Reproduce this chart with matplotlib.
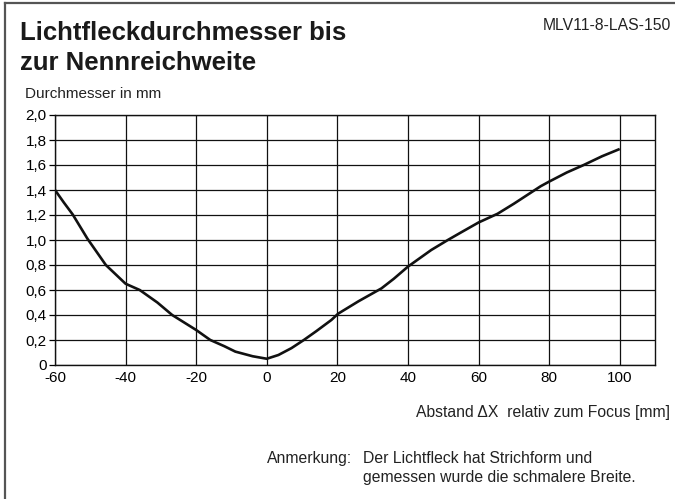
import matplotlib
matplotlib.use("Agg")
import matplotlib.pyplot as plt
from matplotlib.lines import Line2D

plt.rcParams['font.family'] = ['Liberation Sans', 'DejaVu Sans']
plt.rcParams['axes.unicode_minus'] = False

# Data
x_vals = [-60, -57.5, -55, -50.8, -45.6, -40, -36, -31, -26.8, -20, -16, -12, -8.9, -4, 0, 3.3, 7, 10.5, 14,
          18.3, 20.2, 26, 32.5, 36, 40, 46.6, 51.3, 55, 60, 65.4, 70, 77.6, 80, 85, 89.8, 95, 100]
y_vals = [1.40, 1.30, 1.205, 1.01, 0.80, 0.65, 0.60, 0.50, 0.40, 0.28, 0.20, 0.15, 0.107, 0.07, 0.05, 0.08, 0.135,
          0.20, 0.27, 0.36, 0.41, 0.51, 0.613, 0.69, 0.787, 0.92, 1.00, 1.06, 1.14, 1.21, 1.29, 1.43, 1.467, 1.54,
          1.60, 1.67, 1.728]
x_ticks = [-60, -40, -20, 0, 20, 40, 60, 80, 100]
y_ticks = [0, 0.2, 0.4, 0.6, 0.8, 1.0, 1.2, 1.4, 1.6, 1.8, 2.0]
y_ticklabels = ['0', '0,2', '0,4', '0,6', '0,8', '1,0', '1,2', '1,4', '1,6', '1,8', '2,0']

W, H = 675, 499
fig = plt.figure(figsize=(W / 100, H / 100), dpi=100)
ax = fig.add_axes([55 / W, 1 - 365 / H, (655 - 55) / W, (365 - 115) / H])

ax.plot(x_vals, y_vals, color='#111111', lw=1.9, solid_joinstyle='round', solid_capstyle='butt')
ax.set_xlim(-59.3, 110)
ax.set_ylim(0, 2.0)
ax.set_xticks(x_ticks)
ax.set_yticks(y_ticks)
ax.set_yticklabels(y_ticklabels)
ax.grid(True, color='#111111', lw=0.9)
for s in ax.spines.values():
    s.set_linewidth(1.0)
    s.set_color('#111111')
ax.tick_params(axis='y', direction='out', length=4, width=0.9, labelsize=11, pad=2)
ax.tick_params(axis='x', length=0, labelsize=11, pad=4)
for lbl in ax.get_xticklabels():
    lbl.set_clip_on(False)

# Frame lines (left and top)
fig.add_artist(Line2D([5.5 / W, 5.5 / W], [0, 1 - 2.5 / H], transform=fig.transFigure,
                      color='#555555', lw=1.6))
fig.add_artist(Line2D([5.5 / W, 1], [1 - 2.5 / H, 1 - 2.5 / H], transform=fig.transFigure,
                      color='#555555', lw=1.6))

def px(x, y):
    return x / W, 1 - y / H

fig.text(*px(20, 40), 'Lichtfleckdurchmesser bis', fontsize=18.5, fontweight='bold', va='baseline', ha='left',
         color='#1a1a1a')
fig.text(*px(20, 70), 'zur Nennreichweite', fontsize=18.5, fontweight='bold', va='baseline', ha='left',
         color='#1a1a1a')
fig.text(*px(671, 30), 'MLV11-8-LAS-150', fontsize=11.3, va='baseline', ha='right', color='#222222')
fig.text(*px(25, 98), 'Durchmesser in mm', fontsize=11, va='baseline', ha='left', color='#222222')
fig.text(*px(670, 417), 'Abstand \u0394X  relativ zum Focus [mm]', fontsize=11.3, va='baseline', ha='right',
         color='#222222')
fig.text(*px(267, 463), 'Anmerkung:', fontsize=11.3, va='baseline', ha='left', color='#222222')
fig.text(*px(363, 463), 'Der Lichtfleck hat Strichform und', fontsize=11.3, va='baseline', ha='left',
         color='#222222')
fig.text(*px(363, 482), 'gemessen wurde die schmalere Breite.', fontsize=11.3, va='baseline', ha='left',
         color='#222222')

fig.savefig('out.png', dpi=100)
